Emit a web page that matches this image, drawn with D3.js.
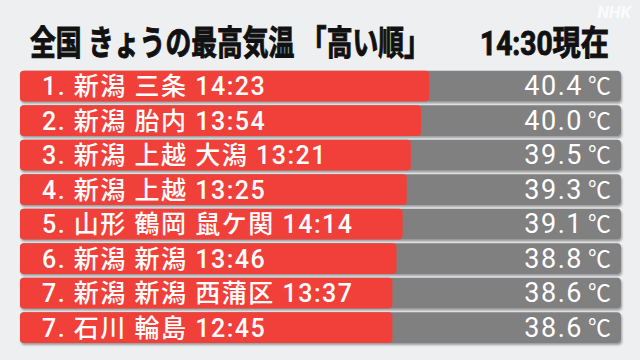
<!DOCTYPE html>
<html>
<head>
<meta charset="utf-8">
<script src="https://cdn.jsdelivr.net/npm/d3@7"></script>
<style>
  html, body { margin: 0; padding: 0; background: #eeeff1; }
  svg { display: block; }
  text { font-family: Roboto, "Noto Sans CJK JP", sans-serif; }
</style>
</head>
<body>
<div id="chart"></div>
<script>
// données
const ranks = ["1", "2", "3", "4", "5", "6", "7", "7"];
const places = ["新潟 三条", "新潟 胎内", "新潟 上越 大潟", "新潟 上越", "山形 鶴岡 鼠ケ関", "新潟 新潟", "新潟 新潟 西蒲区", "石川 輪島"];
const times = ["14:23", "13:54", "13:21", "13:25", "14:14", "13:46", "13:37", "12:45"];
const temps = [40.4, 40.0, 39.5, 39.3, 39.1, 38.8, 38.6, 38.6];
const title_main = "全国 きょうの最高気温 「高い順」";
const title_time = "14:30現在";
const unit = "℃";

const width = 640, height = 360;

const svg = d3.select("#chart").append("svg")
    .attr("width", width)
    .attr("height", height);

// ombre portée sous les barres
const defs = svg.append("defs");
const f = defs.append("filter").attr("id", "shadow")
    .attr("x", "-5%").attr("y", "-20%").attr("width", "110%").attr("height", "160%");
f.append("feDropShadow")
    .attr("dx", 1).attr("dy", 2).attr("stdDeviation", 1.2)
    .attr("flood-color", "#000").attr("flood-opacity", 0.35);

svg.append("rect").attr("width", width).attr("height", height).attr("fill", "#eeeff1");

// titre : police tassée horizontalement pour tenir dans la largeur voulue
function title(txt, x0, target) {
  const t = svg.append("text")
      .attr("font-size", 34).attr("font-weight", 700)
      .attr("fill", "#111").attr("stroke", "#111").attr("stroke-width", 1)
      .text(txt);
  const w = t.node().getComputedTextLength();
  t.attr("transform", `translate(${x0},55) scale(${target / w},1)`);
}
title(title_main, 30, 400);
title(title_time, 480, 129);

// logo
svg.append("text")
    .attr("x", 631).attr("y", 18)
    .attr("text-anchor", "end")
    .attr("font-size", 17).attr("font-weight", 700).attr("font-style", "italic")
    .attr("fill", "#fff").attr("fill-opacity", 0.8)
    .text("NHK");

const idx = d3.range(temps.length);

const y = d3.scaleBand()
    .domain(idx)
    .range([70.7, 343])
    .paddingInner(0.107);

const x = d3.scaleLinear()
    .domain([20.35, 49.8])
    .range([20, 621]);

const rows = svg.append("g").selectAll("g")
    .data(idx)
    .join("g")
    .attr("transform", i => `translate(0,${y(i)})`);

rows.append("rect")
    .attr("x", x.range()[0])
    .attr("width", x.range()[1] - x.range()[0])
    .attr("height", y.bandwidth())
    .attr("rx", 4)
    .attr("fill", "#808080")
    .attr("filter", "url(#shadow)");

rows.append("rect")
    .attr("x", x.range()[0])
    .attr("width", i => x(temps[i]) - x.range()[0])
    .attr("height", y.bandwidth())
    .attr("rx", 4)
    .attr("fill", "#f1403a");

const base = y.bandwidth() / 2 + 9;

rows.append("text")
    .attr("x", 42).attr("y", base)
    .attr("font-size", 25).attr("font-weight", 500)
    .attr("letter-spacing", 1.5)
    .attr("fill", "#fff")
    .text(i => `${ranks[i]}. ${places[i]} ${times[i]}`);

rows.append("text")
    .attr("x", 583).attr("y", base)
    .attr("text-anchor", "end")
    .attr("font-size", 27).attr("font-weight", 400)
    .attr("letter-spacing", 1.5)
    .attr("fill", "#fff")
    .text(i => temps[i].toFixed(1));

rows.append("text")
    .attr("x", 588).attr("y", base - 1)
    .attr("font-family", "'Noto Sans CJK JP', sans-serif")
    .attr("font-size", 23)
    .attr("fill", "#fff")
    .text(unit);
</script>
</body>
</html>
